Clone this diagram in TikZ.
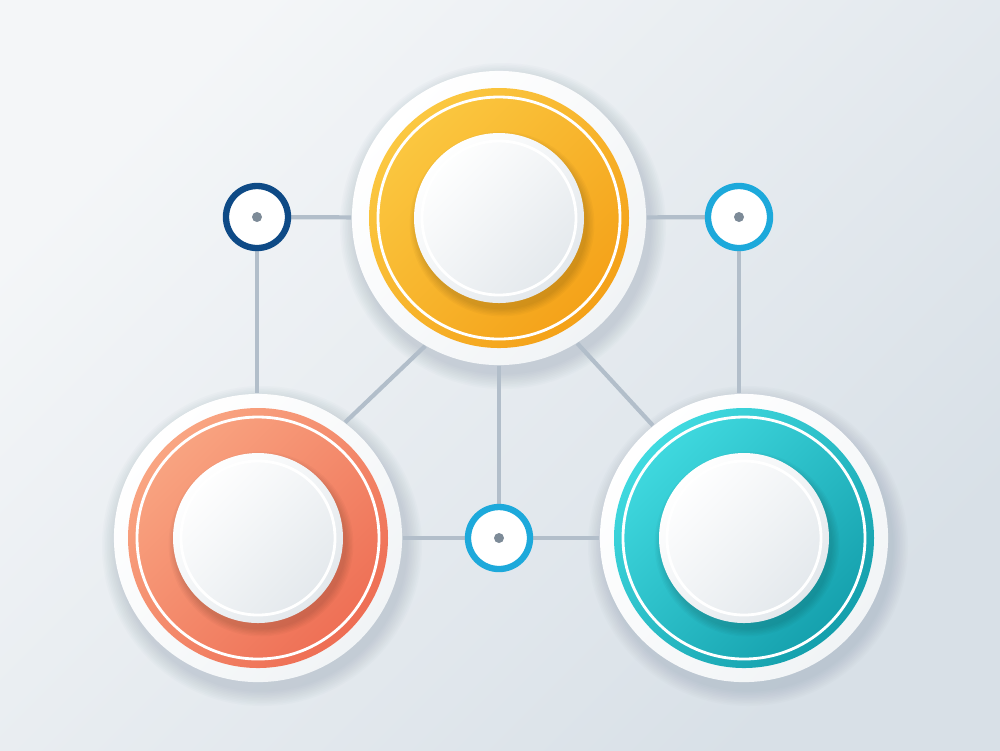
\documentclass[tikz,border=0pt]{standalone}

\definecolor{bgA}{HTML}{F4F6F8}
\definecolor{bgB}{HTML}{D8E0E7}
\definecolor{wiregray}{HTML}{B2BECA}
\definecolor{shadowc}{HTML}{7E90A2}
\definecolor{navy}{HTML}{0E4A86}
\definecolor{sky}{HTML}{1DA9DB}
\definecolor{dotgray}{HTML}{7D8B98}
\definecolor{yelA}{HTML}{FBC841}
\definecolor{yelB}{HTML}{F4A118}
\definecolor{orgA}{HTML}{F9A582}
\definecolor{orgB}{HTML}{EE6E54}
\definecolor{tealA}{HTML}{40DAE0}
\definecolor{tealB}{HTML}{149FAC}
\definecolor{plateB}{HTML}{F1F4F6}
\definecolor{discB}{HTML}{E3E8EC}

\pgfdeclarelayer{bg}
\pgfdeclarelayer{wires}
\pgfsetlayers{bg,wires,main}

\tikzset{
  wire/.style={line width=1.2pt, color=wiregray},
  hub/.style={circle, draw, line width=1.8pt, fill=white, minimum size=0.62cm, inner sep=0pt},
  plate/.style={circle, top color=white, bottom color=plateB, shading angle=45, inner sep=0pt},
  rim/.style={white, line width=0.8pt}
}

\begin{document}
\begin{tikzpicture}[x=0.01cm, y=-0.01cm]
  \useasboundingbox (0,0) rectangle (1000,750);

  % the three big discs
  \node[plate, minimum size=2.94cm] (ntop)   at (499,218) {};
  \node[plate, minimum size=2.88cm] (nleft)  at (258,538) {};
  \node[plate, minimum size=2.88cm] (nright) at (744,538) {};

  \foreach \n/\ca/\cb in {ntop/yelA/yelB, nleft/orgA/orgB, nright/tealA/tealB} {
    \shade[top color=\ca, bottom color=\cb, shading angle=45] (\n) circle[radius=130];
    \draw[rim] (\n) circle[radius=121];
    \foreach \k in {1,...,6}
      \fill[black, opacity=0.025] (\n) ++(3,6) circle[radius=84+\k*1.4];
    \shade[top color=white, bottom color=discB, shading angle=45] (\n) circle[radius=85];
    \draw[rim] (\n) circle[radius=77];
  }

  % small hubs
  \node[hub, draw=navy] (hubl) at (257,217) {};
  \node[hub, draw=sky]  (hubr) at (739,217) {};
  \node[hub, draw=sky]  (hubb) at (499,538) {};
  \fill[dotgray] (hubl) circle[radius=5];
  \fill[dotgray] (hubr) circle[radius=5];
  \fill[dotgray] (hubb) circle[radius=5];

  \begin{pgfonlayer}{bg}
    \shade[top color=bgA, bottom color=bgB, shading angle=45] (0,0) rectangle (1000,750);
    \foreach \cx/\cy/\r in {499/218/147, 258/538/144, 744/538/144}
      \foreach \k in {1,...,10}
        \fill[shadowc, opacity=0.03] (\cx+4,\cy+8) circle[radius=\r+\k*1.6];
  \end{pgfonlayer}

  \begin{pgfonlayer}{wires}
    \draw[wire] (hubl) -- (ntop);
    \draw[wire] (ntop) -- (hubr);
    \draw[wire] (hubl) -- (hubl |- nleft.north);
    \draw[wire] (hubr) -- (hubr |- nright.north);
    \draw[wire] (ntop.-120) -- (nleft.53);
    \draw[wire] (ntop.-58) -- (nright.129);
    \draw[wire] (ntop) -- (hubb);
    \draw[wire] (nleft) -- (hubb);
    \draw[wire] (hubb) -- (nright);
  \end{pgfonlayer}
\end{tikzpicture}
\end{document}
